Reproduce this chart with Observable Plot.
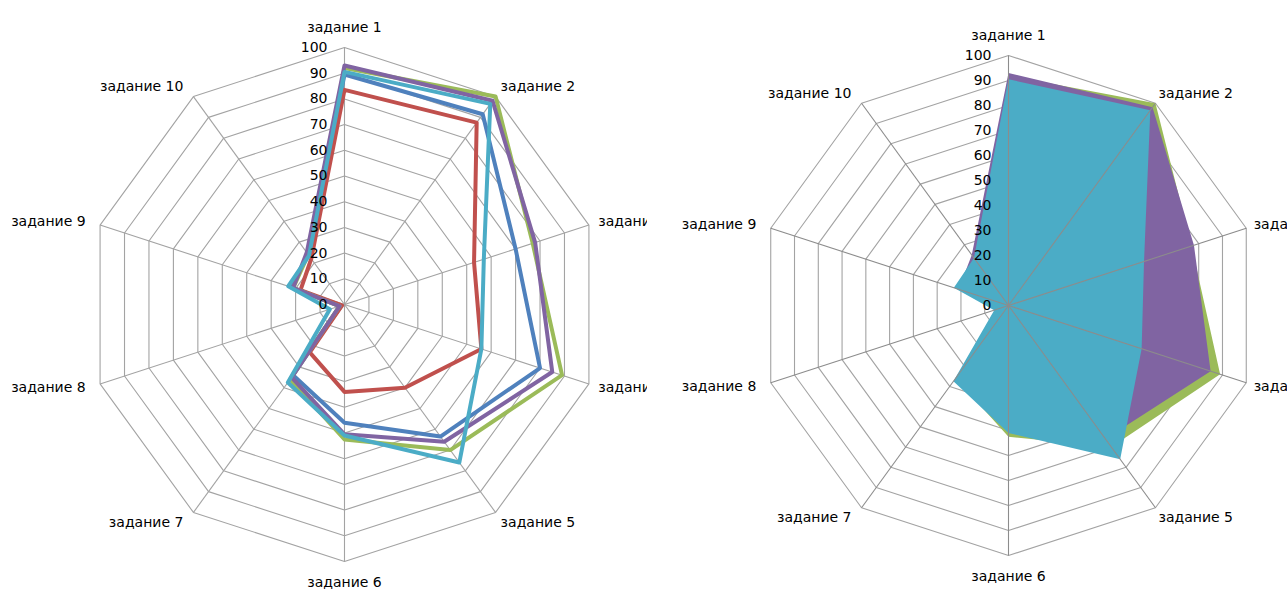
<!DOCTYPE html>
<html><head><meta charset="utf-8">
<script src="https://cdn.jsdelivr.net/npm/d3@7"></script>
<script src="https://cdn.jsdelivr.net/npm/@observablehq/plot@0.6"></script>
<style>
body{margin:0;background:#fff;}
#wrap{display:flex;width:1287px;height:592px;overflow:hidden;}
#wrap > div{overflow:hidden;height:592px;flex:none;}
</style></head><body><div id="wrap"><div id="left"></div><div id="right"></div></div>
<script>
const categories = ["задание 1","задание 2","задание 3","задание 4","задание 5","задание 6","задание 7","задание 8","задание 9","задание 10"];
const seriesNames = ["Ряд1","Ряд2","Ряд3","Ряд4","Ряд5"];
const series1 = [89.5, 91.5, 70, 80, 63.5, 46, 34, 2, 22, 24];
const series2 = [83.5, 87.5, 53, 56, 40, 34, 23, 1, 18, 22];
const series3 = [92, 100, 77, 89, 70, 52.5, 36, 2, 21, 24];
const series4 = [93, 98, 78, 85, 66, 50.5, 35, 2, 21, 25];
const series5 = [90.5, 96.5, 57, 56, 76, 51, 37.5, 6, 23, 23.5];
const seriesColors = ["#4F81BD","#C0504D","#9BBB59","#8064A2","#4BACC6"];
const tickValues = [0,10,20,30,40,50,60,70,80,90,100];

const allSeries = [series1, series2, series3, series4, series5];
const N = categories.length;
const ang = i => i * 2 * Math.PI / N;

function seriesPoints(vals){
  const pts = vals.map((v,i)=>({x: v*Math.sin(ang(i)), y: v*Math.cos(ang(i))}));
  pts.push(pts[0]);
  return pts;
}

function radar({width, height, cx, cy, scale, filled, sideDx}){
  const rings = [];
  tickValues.filter(t=>t>0).forEach(t=>{
    for(let i=0;i<=N;i++) rings.push({ring:t, x:t*Math.sin(ang(i%N)), y:t*Math.cos(ang(i%N))});
  });
  const spokes = categories.map((c,i)=>({x2:100*Math.sin(ang(i)), y2:100*Math.cos(ang(i))}));
  const off = 12/scale;
  const labels = categories.map((c,i)=>{
    const s=Math.sin(ang(i)), co=Math.cos(ang(i));
    let anchor = s>0.1?"start":(s<-0.1?"end":"middle");
    let line = "middle";
    if(anchor==="middle") line = co>0?"bottom":"top";
    return {text:c, x:(100+off)*s, y:(100+off)*co, anchor, line};
  });
  const gridColor = "#a3a3a3";
  const marks = [
    Plot.line(rings, {x:"x", y:"y", z:"ring", stroke:gridColor, strokeWidth:1.1, strokeLinejoin:"miter"}),
  ];
  const spokeMark = Plot.link(spokes, {x1:0, y1:0, x2:"x2", y2:"y2", stroke: filled?"#8c8c8c":gridColor, strokeWidth:1.1});
  if(!filled){
    marks.push(spokeMark);
    allSeries.forEach((vals,k)=>{
      marks.push(Plot.line(seriesPoints(vals), {x:"x", y:"y", stroke:seriesColors[k], strokeWidth:4, strokeLinejoin:"round"}));
    });
  } else {
    allSeries.forEach((vals,k)=>{
      marks.push(Plot.line(seriesPoints(vals), {x:"x", y:"y", fill:seriesColors[k], stroke:"none"}));
    });
    marks.push(spokeMark);
  }
  marks.push(Plot.text(tickValues, {x:0, y:d=>d, text:d=>String(d), textAnchor:"end", dx:-17, fill:"#000"}));
  [["start","middle"],["end","middle"],["middle","bottom"],["middle","top"]].forEach(([a,l])=>{
    const sub = labels.filter(d=>d.anchor===a && d.line===l);
    marks.push(Plot.text(sub, {x:"x", y:"y", text:"text", textAnchor:a, lineAnchor:l, dx: a==="start"?sideDx:(a==="end"?-3:0), dy: l==="bottom"?-4:(l==="top"?4:0), fill:"#000"}));
  });
  return Plot.plot({
    width, height, margin:0,
    x:{domain:[-cx/scale, (width-cx)/scale], axis:null},
    y:{domain:[-(height-cy)/scale, cy/scale], axis:null},
    style:{fontFamily:"DejaVu Sans", fontSize:"14px", background:"#fff", color:"#000"},
    marks
  });
}

const leftW = 647, rightW = 640;
document.getElementById("left").style.width = leftW+"px";
document.getElementById("right").style.width = rightW+"px";
document.getElementById("left").append(radar({width:leftW, height:592, cx:344, cy:304, scale:2.57, filled:false, sideDx:-2}));
document.getElementById("right").append(radar({width:rightW, height:592, cx:361, cy:305, scale:2.5, filled:true, sideDx:-4}));
</script></body></html>
